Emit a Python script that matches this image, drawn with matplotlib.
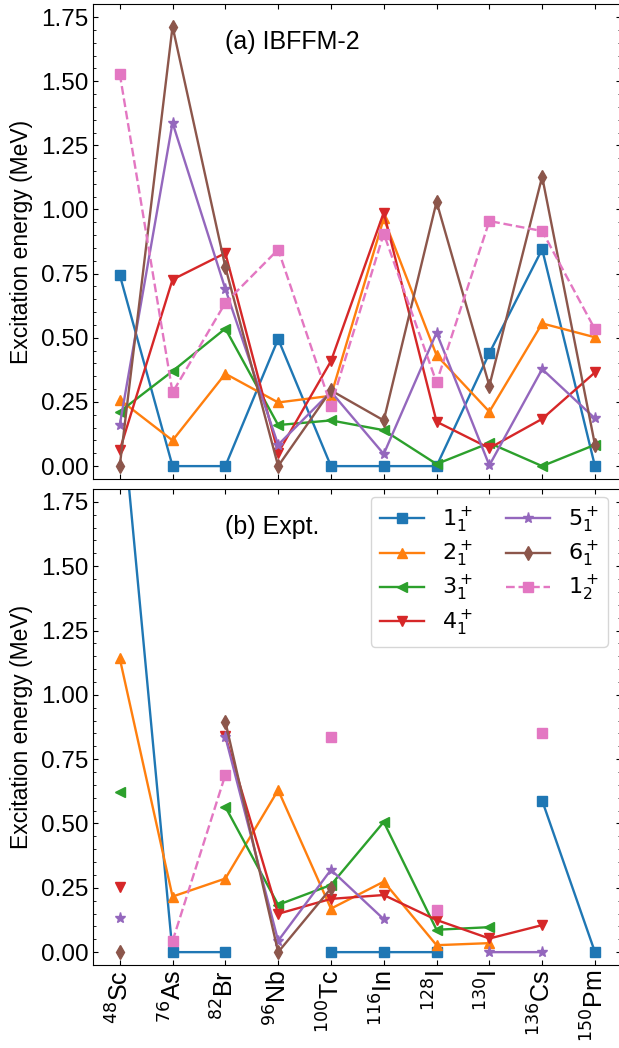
import matplotlib
matplotlib.use("Agg")
import matplotlib.pyplot as plt
from matplotlib.ticker import MultipleLocator
import numpy as np

plt.rcParams['font.family'] = ['Liberation Sans', 'DejaVu Sans']
plt.rcParams['mathtext.fontset'] = 'dejavusans'

nan = np.nan

nuclei = [r'$^{48}$Sc', r'$^{76}$As', r'$^{82}$Br', r'$^{96}$Nb', r'$^{100}$Tc',
          r'$^{116}$In', r'$^{128}$I', r'$^{130}$I', r'$^{136}$Cs', r'$^{150}$Pm']

state_labels = [r'$1_1^+$', r'$2_1^+$', r'$3_1^+$', r'$4_1^+$',
                r'$5_1^+$', r'$6_1^+$', r'$1_2^+$']

# IBFFM-2 energies (MeV)
ibffm_1p1 = [0.745, 0.0, 0.0, 0.495, 0.0, 0.0, 0.0, 0.44, 0.845, 0.0]
ibffm_2p1 = [0.259, 0.10, 0.36, 0.248, 0.274, 0.965, 0.432, 0.212, 0.556, 0.502]
ibffm_3p1 = [0.212, 0.37, 0.536, 0.16, 0.178, 0.14, 0.008, 0.09, 0.0, 0.083]
ibffm_4p1 = [0.062, 0.727, 0.83, 0.052, 0.409, 0.988, 0.173, 0.07, 0.184, 0.365]
ibffm_5p1 = [0.16, 1.338, 0.69, 0.083, 0.29, 0.047, 0.52, 0.003, 0.378, 0.186]
ibffm_6p1 = [0.0, 1.713, 0.776, 0.0, 0.295, 0.178, 1.03, 0.313, 1.128, 0.083]
ibffm_1p2 = [1.529, 0.287, 0.636, 0.844, 0.236, 0.906, 0.326, 0.955, 0.916, 0.533]

# experimental energies (MeV), nan = not known
expt_1p1 = [2.19, 0.0, 0.0, nan, 0.0, 0.0, 0.0, nan, 0.589, 0.0]
expt_2p1 = [1.142, 0.216, 0.286, 0.63, 0.169, 0.274, 0.027, 0.035, nan, nan]
expt_3p1 = [0.621, nan, 0.565, 0.184, 0.261, 0.506, 0.087, 0.097, nan, nan]
expt_4p1 = [0.252, nan, 0.84, 0.149, 0.207, 0.222, 0.125, 0.053, 0.105, nan]
expt_5p1 = [0.132, nan, 0.837, 0.044, 0.32, 0.128, nan, 0.0, 0.0, nan]
expt_6p1 = [0.0, nan, 0.896, 0.0, 0.248, nan, nan, nan, nan, nan]
expt_1p2 = [nan, 0.043, 0.689, nan, 0.837, nan, 0.162, nan, 0.85, nan]

ibffm = [ibffm_1p1, ibffm_2p1, ibffm_3p1, ibffm_4p1, ibffm_5p1, ibffm_6p1, ibffm_1p2]
expt = [expt_1p1, expt_2p1, expt_3p1, expt_4p1, expt_5p1, expt_6p1, expt_1p2]

colors = ['C0', 'C1', 'C2', 'C3', 'C4', 'C5', 'C6']
markers = ['s', '^', '<', 'v', '*', 'd', 's']
styles = ['-', '-', '-', '-', '-', '-', '--']

fig = plt.figure(figsize=(6.19, 10.48), dpi=100)
ax1 = fig.add_axes([0.1508, 0.543, 0.853, 0.453])
ax2 = fig.add_axes([0.1508, 0.0792, 0.853, 0.4542])

x = np.arange(len(nuclei))

for ax, data, tag in [(ax1, ibffm, '(a) IBFFM-2'), (ax2, expt, '(b) Expt.')]:
    for vals, c, m, ls, lab in zip(data, colors, markers, styles, state_labels):
        ax.plot(x, vals, color=c, marker=m, linestyle=ls, linewidth=1.7,
                markersize=7.5 if m != '*' else 8, label=lab)
    ax.set_xlim(-0.5, 9.5)
    ax.set_ylim(-0.05, 1.8)
    ax.set_xticks(x)
    ax.yaxis.set_major_locator(MultipleLocator(0.25))
    ax.yaxis.set_minor_locator(MultipleLocator(0.05))
    ax.tick_params(which='both', direction='in', top=True, right=True, labelsize=17.5)
    ax.set_ylabel('Excitation energy (MeV)', fontsize=16.5, labelpad=6)
    ax.yaxis.set_major_formatter(plt.FormatStrFormatter('%.2f'))
    ax.text(0.25, 0.905, tag, transform=ax.transAxes, fontsize=18)

ax1.set_xticklabels([])
ax2.set_xticklabels(nuclei, rotation=90, fontsize=18)

ax2.legend(loc='upper right', ncol=2, fontsize=16, handlelength=2.0,
           columnspacing=1.5, borderaxespad=0.25, labelspacing=0.22,
           bbox_to_anchor=(0.985, 0.995))

plt.savefig('out.png', dpi=100)
